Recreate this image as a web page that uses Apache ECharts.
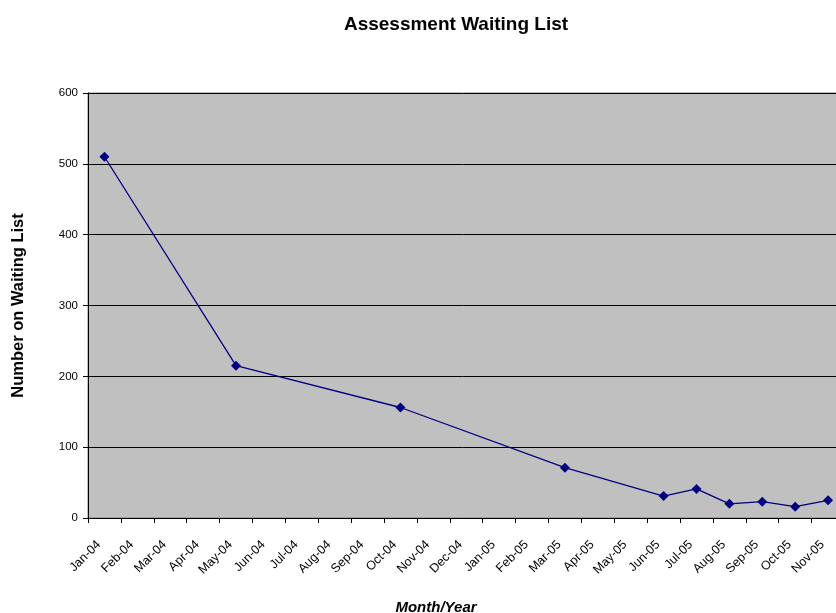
<!DOCTYPE html>
<html>
<head>
<meta charset="utf-8">
<script src="https://cdn.jsdelivr.net/npm/echarts@6/dist/echarts.min.js"></script>
<style>
html,body{margin:0;padding:0;background:#fff;}
#chart{width:836px;height:613px;}
</style>
</head>
<body>
<div id="chart"></div>
<script>
var months = ['Jan-04','Feb-04','Mar-04','Apr-04','May-04','Jun-04','Jul-04','Aug-04','Sep-04','Oct-04','Nov-04','Dec-04',
              'Jan-05','Feb-05','Mar-05','Apr-05','May-05','Jun-05','Jul-05','Aug-05','Sep-05','Oct-05','Nov-05'];
var pointMonths = ['Jan-04','May-04','Oct-04','Mar-05','Jun-05','Jul-05','Aug-05','Sep-05','Oct-05','Nov-05'];
var pointValues = [510, 215, 156, 71, 31, 41, 20, 23, 16, 25];
var yTicks = [0, 100, 200, 300, 400, 500, 600];

var seriesData = months.map(function (m) {
  var i = pointMonths.indexOf(m);
  return i >= 0 ? pointValues[i] : null;
});

var chart = echarts.init(document.getElementById('chart'), null, {renderer: 'canvas'});
var font = 'Liberation Sans, Arial, sans-serif';
chart.setOption({
  animation: false,
  backgroundColor: '#ffffff',
  title: [{
    text: 'Assessment Waiting List',
    left: 451, top: 10, textAlign: 'center',
    textStyle: {fontFamily: font, fontSize: 19, fontWeight: 'bold', color: '#000'}
  }, {
    text: 'Month/Year',
    left: 431, top: 595, textAlign: 'center',
    textStyle: {fontFamily: font, fontSize: 15, fontWeight: 'bold', fontStyle: 'italic', color: '#000'}
  }],
  grid: {
    left: 88, top: 93, right: -8.5, bottom: 95,
    outerBoundsMode: 'none',
    containLabel: false,
    show: true, backgroundColor: '#C0C0C0', borderColor: '#808080', borderWidth: 1
  },
  xAxis: {
    type: 'category',
    data: months,
    boundaryGap: true,
    axisLine: {show: true, lineStyle: {color: '#000', width: 1}},
    axisTick: {show: true, length: 5, lineStyle: {color: '#000'}},
    axisLabel: {
      rotate: 45, interval: 0, margin: 19, padding: [0, 8, 0, 0],
      fontFamily: font, fontSize: 12.5, color: '#000'
    },
    splitLine: {show: false}
  },
  yAxis: {
    type: 'value',
    min: yTicks[0], max: yTicks[yTicks.length - 1], interval: 100,
    name: 'Number on Waiting List',
    nameLocation: 'middle', nameGap: 61,
    nameTextStyle: {fontFamily: font, fontSize: 16.5, fontWeight: 'bold', color: '#000'},
    axisLine: {show: true, lineStyle: {color: '#000', width: 1}},
    axisTick: {show: true, length: 5, lineStyle: {color: '#000'}},
    axisLabel: {margin: 10, fontFamily: font, fontSize: 11.5, color: '#000'},
    splitLine: {show: true, lineStyle: {color: '#000', width: 1}}
  },
  series: [{
    type: 'line',
    data: seriesData,
    connectNulls: true,
    symbol: 'diamond',
    symbolSize: 10,
    lineStyle: {color: '#000080', width: 1.3},
    itemStyle: {color: '#000080'}
  }]
});
</script>
</body>
</html>
